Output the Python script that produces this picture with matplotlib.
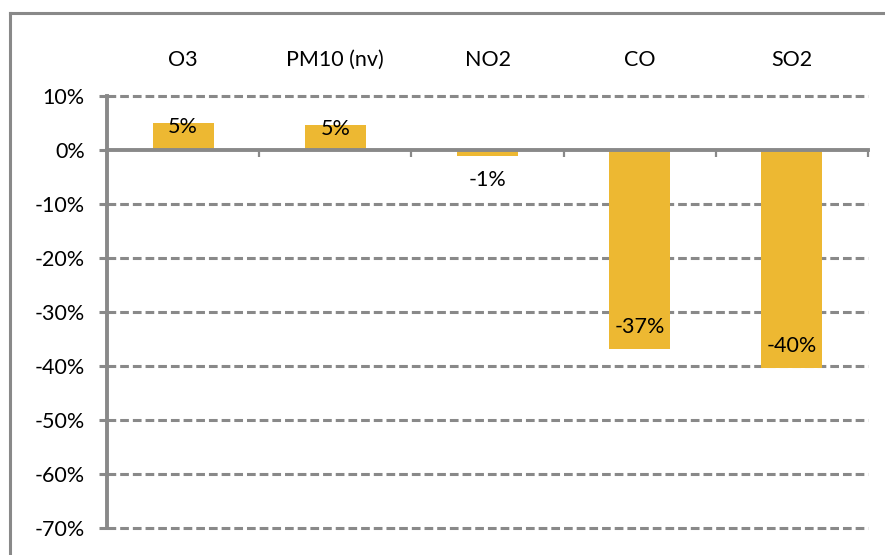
import matplotlib.pyplot as plt
from matplotlib.lines import Line2D

pollutants = ['O3', 'PM10 (nv)', 'NO2', 'CO', 'SO2']
change_pct = [5.0, 4.6, -1.1, -36.9, -40.4]
change_labels = ['5%', '5%', '-1%', '-37%', '-40%']
y_ticks = [10, 0, -10, -20, -30, -40, -50, -60, -70]

plt.rcParams['font.family'] = ['Lato', 'DejaVu Sans']

bar_color = '#EDB832'
axis_gray = '#898989'

fig = plt.figure(figsize=(8.85, 5.55), dpi=100)
W, H = 885, 555
ax = fig.add_axes([107 / W, 1 - 528 / H, (868 - 107) / W, (528 - 96) / H])

x = list(range(len(pollutants)))
bars = ax.bar(x, change_pct, width=0.4, color=bar_color, zorder=2)

# data labels
for xi, v, lab in zip(x, change_pct, change_labels):
    if v >= 0:
        off = -3
    elif v > -5:
        off = -17
    else:
        off = 16
    ax.annotate(lab, (xi, v), xytext=(0, off), textcoords='offset points',
                ha='center', va='center', fontsize=15.5, color='black', zorder=3)

ax.set_xlim(-0.5, len(pollutants) - 0.5)
ax.set_ylim(-70, 10)
ax.set_yticks(y_ticks)
ax.set_yticklabels([f'{t}%' for t in y_ticks])

# grid
for t in y_ticks:
    if t != 0:
        ax.axhline(t, color=axis_gray, lw=2.2, dashes=(2.85, 1.3), zorder=1,
                   clip_on=False)

# spines
for s in ['top', 'right']:
    ax.spines[s].set_visible(False)
ax.spines['bottom'].set_position(('data', 0))
ax.spines['bottom'].set_color(axis_gray)
ax.spines['bottom'].set_linewidth(2.8)
ax.spines['bottom'].set_zorder(4)
ax.spines['left'].set_color(axis_gray)
ax.spines['left'].set_linewidth(2.8)
ax.spines['left'].set_zorder(4)

ax.set_xticks([i + 0.5 for i in x])
ax.set_xticklabels([])
ax.tick_params(axis='x', direction='out', length=5, width=1.6, color=axis_gray)
ax.tick_params(axis='y', direction='out', length=6, width=2.2, color=axis_gray,
               pad=10, labelsize=15.5)

# category names above the plot
top = ax.secondary_xaxis('top')
top.set_xticks(x)
top.set_xticklabels(pollutants, fontsize=15.5)
top.tick_params(length=0, pad=19)
top.spines['top'].set_visible(False)

# chart border (left and top edges visible)
fig.add_artist(Line2D([9.5 / W, 9.5 / W], [0, 1 - 13 / H], color=axis_gray, lw=2.2,
                      transform=fig.transFigure))
fig.add_artist(Line2D([9.5 / W, 1], [1 - 13 / H, 1 - 13 / H], color=axis_gray, lw=2.2,
                      transform=fig.transFigure))

fig.savefig('out.png', dpi=100)
